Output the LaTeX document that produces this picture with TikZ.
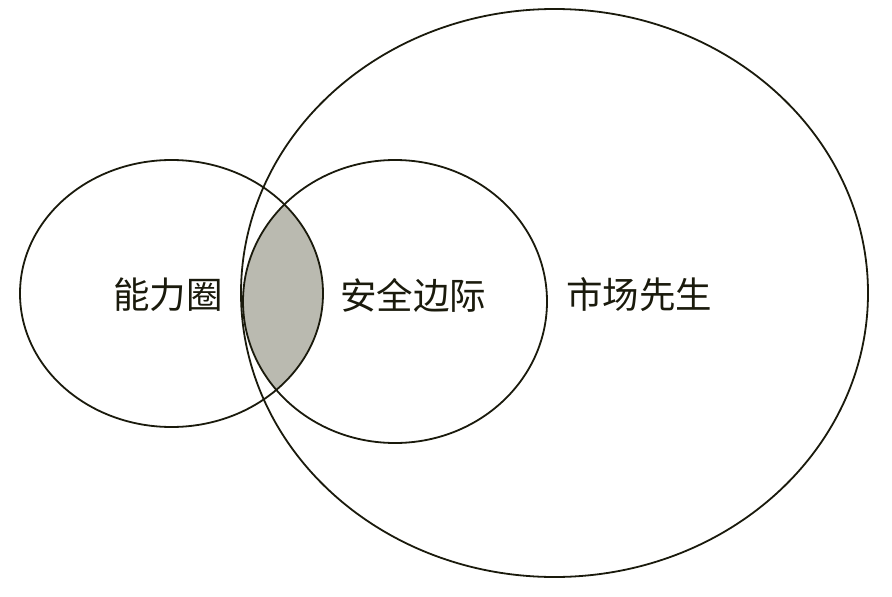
\documentclass[tikz,border=0pt]{standalone}
\usepackage{fontspec}
\newfontfamily\cjk{Noto Sans CJK SC}
\usepackage{tikz}
\usetikzlibrary{calc}
\definecolor{ringline}{RGB}{26,26,12}
\definecolor{overlap}{RGB}{186,186,176}
\tikzset{ring/.style={ringline, line width=1.8pt},
         tag/.style={font=\cjk\fontsize{36.5}{40}\selectfont, text=ringline, inner sep=0pt}}

\begin{document}
\begin{tikzpicture}[x=1pt,y=-1pt]

\useasboundingbox (0,0) rectangle (892,597);

\begin{scope}
\clip (171.5,293.5) ellipse [x radius=151.5, y radius=133.5];
\fill [overlap] (395,301.5) ellipse [x radius=152, y radius=141.5];
\end{scope}

\draw [ring] (171.5,293.5) ellipse [x radius=151.5, y radius=133.5];
\draw [ring] (395,301.5) ellipse [x radius=152, y radius=141.5];
\draw [ring] (554.5,293) ellipse [x radius=313.5, y radius=284];

\node (circle) at (168,295) [tag] {能力圈};
\node (margin) at (413,295) [tag] {安全边际};
\node (market) at (639,295) [tag] {市场先生};

\end{tikzpicture}
\end{document}
